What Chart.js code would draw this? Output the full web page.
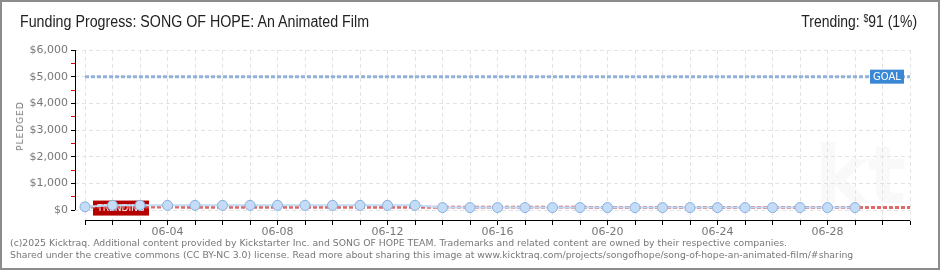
<!DOCTYPE html>
<html>
<head>
<meta charset="utf-8">
<script src="https://cdn.jsdelivr.net/npm/chart.js@4"></script>
<style>
body { margin:0; background:#fff; }
#wrap { position:relative; width:940px; height:270px; overflow:hidden; }
#frame { position:absolute; left:0; top:0; width:940px; height:270px; box-sizing:border-box; border:2px solid #8c8c8c; pointer-events:none; }
#title { position:absolute; left:20px; top:13px; font:16px 'Liberation Sans','DejaVu Sans',sans-serif; color:#222; white-space:nowrap; transform:scaleX(0.89); transform-origin:left top; }
#trend { position:absolute; right:23px; top:13px; font:16px 'Liberation Sans','DejaVu Sans',sans-serif; color:#222; white-space:nowrap; transform:scaleX(0.87); transform-origin:right top; }
#trend sup { font-size:10px; vertical-align:5px; }
#ylab { position:absolute; left:20px; top:126px; transform:translate(-50%,-50%) rotate(-90deg); font:9px 'DejaVu Sans',sans-serif; letter-spacing:1px; color:#777; }
#foot { position:absolute; left:10px; top:237px; font:9.3px 'DejaVu Sans',sans-serif; line-height:12px; color:#777; white-space:nowrap; }
canvas { position:absolute; left:0; top:0; }
</style>
</head>
<body>
<div id="wrap">
<canvas id="c" width="940" height="270"></canvas>
<div id="title">Funding Progress: SONG OF HOPE: An Animated Film</div>
<div id="trend">Trending: <sup>$</sup>91 (1%)</div>
<div id="ylab">PLEDGED</div>
<div id="foot">(c)2025 Kicktraq. Additional content provided by Kickstarter Inc. and SONG OF HOPE TEAM. Trademarks and related content are owned by their respective companies.<br>Shared under the creative commons (CC BY-NC 3.0) license. Read more about sharing this image at www.kicktraq.com/projects/songofhope/song-of-hope-an-animated-film/#sharing</div>
<div id="frame"></div>
</div>
<script>
// days of the campaign (x axis = day number 1..31)
var days = ['06-01','06-02','06-03','06-04','06-05','06-06','06-07','06-08','06-09','06-10',
            '06-11','06-12','06-13','06-14','06-15','06-16','06-17','06-18','06-19','06-20',
            '06-21','06-22','06-23','06-24','06-25','06-26','06-27','06-28','06-29','06-30','07-01'];
var tickLabels = ['06-04','06-08','06-12','06-16','06-20','06-24','06-28'];

// pledged per day, from 06-01
var pledged = [120,175,175,175,175,175,175,175,175,175,175,175,175,
               91,91,91,91,91,91,91,91,91,91,91,91,91,91,91,91];
var goal = [5000, 5000];
var trending = [110, 91];

var yTicks = [0,500,1000,1500,2000,2500,3000,3500,4000,4500,5000,5500,6000];

var firstDay = 1, lastDay = days.length;

function pts(arr, start) {
  return arr.map(function(v, i){ return {x: start + i, y: v}; });
}

var decor = {
  id: 'decor',
  beforeDraw: function(chart) {
    var ctx = chart.ctx, a = chart.chartArea;
    ctx.save();
    ctx.fillStyle = '#f9f9f9';
    ctx.font = 'bold 80px "DejaVu Sans"';
    ctx.textAlign = 'right';
    ctx.textBaseline = 'alphabetic';
    ctx.fillText('kt', a.right - 4, a.bottom - 18);
    ctx.restore();
  },
  beforeDatasetsDraw: function(chart) {
    var ctx = chart.ctx, x = chart.scales.x, y = chart.scales.y;
    ctx.save();
    // axis lines
    ctx.strokeStyle = '#000';
    ctx.lineWidth = 1;
    ctx.beginPath();
    var yx = Math.round(x.left) + 0.5;
    ctx.moveTo(yx, y.getPixelForValue(6000));
    ctx.lineTo(yx, y.getPixelForValue(0));
    var xy = Math.round(y.bottom) - 0.5;
    ctx.moveTo(x.getPixelForValue(firstDay), xy);
    ctx.lineTo(x.getPixelForValue(lastDay), xy);
    ctx.stroke();

    // trending tag, under the points
    var ty = y.getPixelForValue(trending[1]);
    var tl = x.getPixelForValue(firstDay) + 8;
    ctx.fillStyle = '#b50000';
    ctx.fillRect(tl, ty - 7, 56, 15);
    ctx.fillStyle = '#fff';
    ctx.font = '9px "DejaVu Sans"';
    ctx.textAlign = 'center';
    ctx.textBaseline = 'middle';
    ctx.fillText('TRENDING', tl + 28, ty + 1, 48);
    ctx.restore();
  },
  afterDatasetsDraw: function(chart) {
    var ctx = chart.ctx, x = chart.scales.x, y = chart.scales.y;
    ctx.save();
    ctx.font = '10px "DejaVu Sans"';
    ctx.textAlign = 'center';
    ctx.textBaseline = 'middle';
    // goal tag
    var gy = y.getPixelForValue(goal[1]);
    var gr = x.getPixelForValue(lastDay) - 6;
    ctx.fillStyle = '#3a87d6';
    ctx.fillRect(gr - 34, gy - 7, 34, 14);
    ctx.fillStyle = '#fff';
    ctx.fillText('GOAL', gr - 17, gy + 0.5);
    ctx.restore();
  }
};

new Chart(document.getElementById('c'), {
  type: 'line',
  data: {
    datasets: [{
      label: 'Pledged',
      data: pts(pledged, firstDay),
      borderColor: '#c2dbf4',
      borderWidth: 2,
      pointRadius: 5,
      pointBackgroundColor: '#c4dcf6',
      pointBorderColor: '#86afe0',
      pointBorderWidth: 1,
      order: 0
    }, {
      label: 'Trending',
      data: [{x: firstDay, y: trending[0]}, {x: lastDay, y: trending[1]}],
      borderColor: 'rgba(218,80,80,0.85)',
      borderWidth: 3,
      borderDash: [4, 2],
      pointRadius: 0,
      order: 1
    }, {
      label: 'Goal',
      data: [{x: firstDay, y: goal[0]}, {x: lastDay, y: goal[1]}],
      borderColor: 'rgba(120,160,210,0.8)',
      borderWidth: 3,
      borderDash: [4, 2],
      pointRadius: 0,
      order: 2
    }]
  },
  options: {
    responsive: false,
    animation: false,
    layout: { padding: { top: 50, right: 30, left: 0, bottom: 0 } },
    plugins: { legend: { display: false }, tooltip: { enabled: false } },
    scales: {
      x: {
        type: 'linear',
        min: 0.636,
        max: lastDay,
        afterBuildTicks: function(s) { s.ticks = days.map(function(d, i){ return {value: i + 1}; }); },
        afterFit: function(s) { s.height = 49; },
        border: { display: false, dash: [4, 3] },
        grid: { color: '#e3e3e3', tickColor: '#000', tickLength: 4, tickBorderDash: [] },
        ticks: {
          autoSkip: false, maxRotation: 0, padding: 1,
          color: '#777', font: { family: 'DejaVu Sans', size: 11 },
          callback: function(v) { var d = days[v - 1]; return tickLabels.indexOf(d) >= 0 ? d : ''; }
        }
      },
      y: {
        min: -412.5,
        max: 6000,
        afterBuildTicks: function(s) { s.ticks = yTicks.map(function(v){ return {value: v}; }); },
        afterFit: function(s) { s.width = 75; },
        border: { display: false, dash: [4, 3] },
        grid: {
          color: function(c) { return c.tick && c.tick.value % 1000 === 0 ? '#e3e3e3' : 'rgba(0,0,0,0)'; },
          tickColor: function(c) { return c.tick && c.tick.value % 1000 === 0 ? '#000' : '#e00000'; },
          tickLength: 4, tickBorderDash: []
        },
        ticks: {
          autoSkip: false, padding: 3,
          color: '#777', font: { family: 'DejaVu Sans', size: 11 },
          callback: function(v) { return v % 1000 === 0 ? '$' + v.toLocaleString('en-US') : ''; }
        }
      }
    }
  },
  plugins: [decor]
});
</script>
</body>
</html>
